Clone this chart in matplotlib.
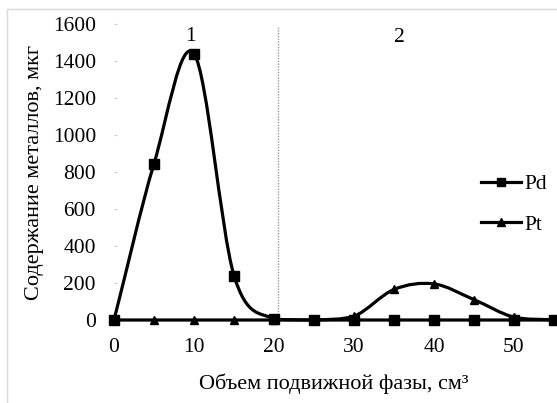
import numpy as np
import matplotlib
matplotlib.use("Agg")
import matplotlib.pyplot as plt
from matplotlib.path import Path
from matplotlib.patches import PathPatch
from matplotlib.lines import Line2D

# Данные
volume = [0, 5, 10, 15, 20, 25, 30, 35, 40, 45, 50, 55]
pd_vals = [0, 845, 1440, 240, 5, 0, 0, 0, 0, 0, 0, 0]
pt_vals = [0, 0, 0, 0, 0, 0, 20, 165, 195, 110, 15, 0]
y_ticks = [0, 200, 400, 600, 800, 1000, 1200, 1400, 1600]
x_ticks = [0, 10, 20, 30, 40, 50]
zone_border = 20.5
zone_labels = [("1", 9.5, 1530), ("2", 35.7, 1525)]

plt.rcParams["font.family"] = ["Liberation Serif", "DejaVu Serif"]
FS = 15.5


def smooth_path(xs, ys):
    # сглаженная линия (кубические Безье), контрольные точки не опускаются
    # ниже меньшего из соседних значений, чтобы не было провалов под ноль
    pts = np.column_stack([xs, ys]).astype(float)
    n = len(pts)
    verts = [pts[0]]
    codes = [Path.MOVETO]
    for i in range(n - 1):
        p1 = pts[i]
        p2 = pts[i + 1]
        p0 = pts[i - 1] if i > 0 else 2 * p1 - p2
        p3 = pts[i + 2] if i + 2 < n else 2 * p2 - p1
        c1 = p1 + (p2 - p0) / 6.0
        c2 = p2 - (p3 - p1) / 6.0
        lo = min(p1[1], p2[1])
        c1[1] = max(c1[1], lo)
        c2[1] = max(c2[1], lo)
        verts += [c1, c2, p2]
        codes += [Path.CURVE4] * 3
    return Path(verts, codes)


fig = plt.figure(figsize=(5.57, 4.03), dpi=100)
ax = fig.add_axes([114 / 557, 83 / 403, 440 / 557, 296 / 403])

for vals in [pd_vals, pt_vals]:
    patch = PathPatch(smooth_path(volume, vals), facecolor="none",
                      edgecolor="black", lw=2.3, clip_on=False, zorder=3)
    ax.add_patch(patch)

ax.plot(volume, pd_vals, ls="none", marker="s", ms=7, color="black",
        clip_on=False, zorder=4)
ax.plot(volume, pt_vals, ls="none", marker="^", ms=6, color="black",
        clip_on=False, zorder=5)

ax.axvline(zone_border, ymin=0, ymax=0.99, color="#9a9a9a", lw=1,
           ls=(0, (1, 1)), zorder=1)
for txt, xx, yy in zone_labels:
    ax.text(xx, yy, txt, fontsize=FS, ha="center", va="center")

ax.set_xlim(0, 55)
ax.set_ylim(0, 1600)
ax.set_xticks(x_ticks)
ax.set_yticks(y_ticks)
for s in ["top", "right", "left"]:
    ax.spines[s].set_visible(False)
ax.spines["bottom"].set_color("black")
ax.tick_params(axis="y", direction="in", length=2, color="#d0d0d0",
               labelsize=FS, pad=13)
ax.tick_params(axis="x", length=0, labelsize=FS, pad=13)

ax.set_xlabel("Объем подвижной фазы, см³", fontsize=16, labelpad=12)
ax.set_ylabel("Содержание металлов, мкг", fontsize=16, labelpad=6)

handles = [
    Line2D([], [], color="black", lw=2.3, marker="s", ms=6),
    Line2D([], [], color="black", lw=2.3, marker="^", ms=6),
]
fig.legend(handles, ["Pd", "Pt"], loc="upper left",
           bbox_to_anchor=(481 / 557, 1 - 174 / 403), frameon=False,
           fontsize=FS, borderaxespad=0, borderpad=0,
           handlelength=1.85, handletextpad=0.15, labelspacing=0.95)

# светлая рамка области диаграммы
fig.add_artist(Line2D([7 / 557, 7 / 557], [0, 1 - 9 / 403], color="#d9d9d9", lw=1))
fig.add_artist(Line2D([7 / 557, 1], [1 - 9 / 403, 1 - 9 / 403], color="#d9d9d9", lw=1))

fig.savefig("out.png", dpi=100)
